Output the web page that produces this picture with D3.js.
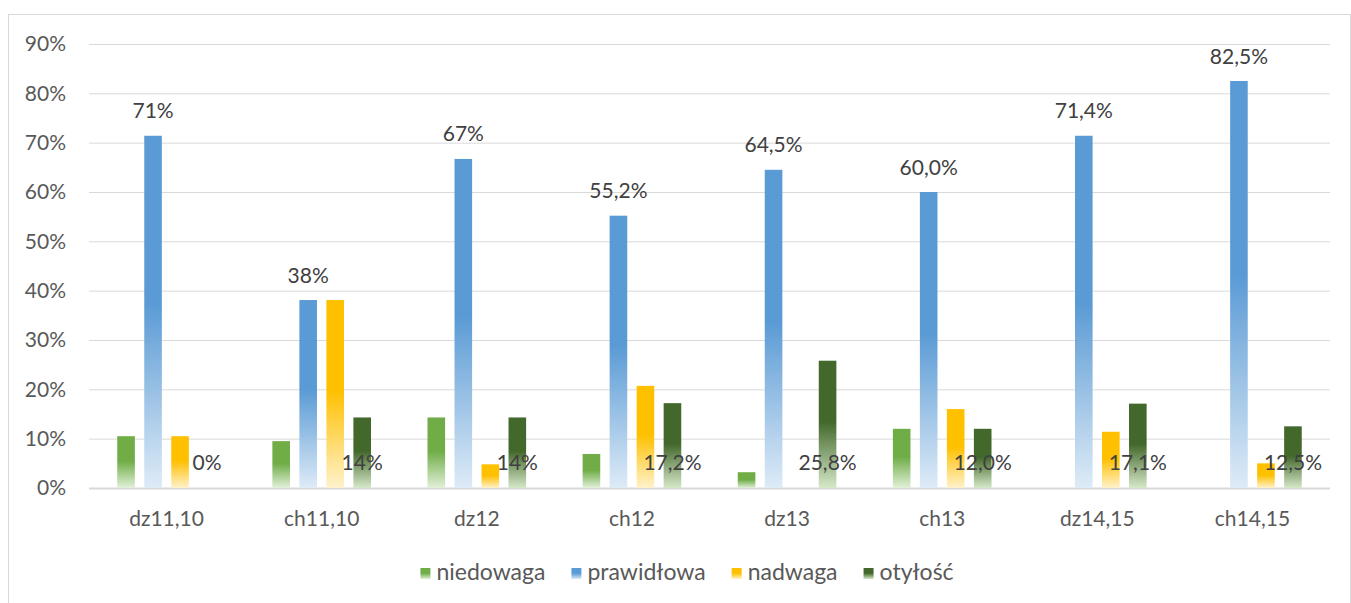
<!DOCTYPE html>
<html>
<head>
<meta charset="utf-8">
<script src="https://cdn.jsdelivr.net/npm/d3@7"></script>
<style>
  html, body { margin: 0; padding: 0; background: #fff; }
  svg { display: block; font-family: Lato, "Open Sans", sans-serif; }
</style>
</head>
<body>
<svg id="chart" width="1351" height="603"></svg>
<script>
// Groups along the x axis
const categories = ["dz11,10", "ch11,10", "dz12", "ch12", "dz13", "ch13", "dz14,15", "ch14,15"];

// Series names (legend order)
const seriesNames = ["niedowaga", "prawidłowa", "nadwaga", "otyłość"];

// Percent values per series, one per category
const niedowaga  = [10.5,  9.5, 14.3,  6.9,  3.2, 12.0,  0.0,  0.0];
const prawidlowa = [71.4, 38.1, 66.7, 55.2, 64.5, 60.0, 71.4, 82.5];
const nadwaga    = [10.5, 38.1,  4.8, 20.7,  0.0, 16.0, 11.4,  5.0];
const otylosc    = [ 0.0, 14.3, 14.3, 17.2, 25.8, 12.0, 17.1, 12.5];

// Decimal places used in the value labels of each category
const labelDecimals = [0, 0, 0, 1, 1, 1, 1, 1];

// Y axis ticks
const yTicks = [0, 10, 20, 30, 40, 50, 60, 70, 80, 90];

const seriesValues = [niedowaga, prawidlowa, nadwaga, otylosc];
const colors = ["#70ad47", "#5b9bd5", "#ffc000", "#43682b"];
const fadeColors = ["#e2f0d9", "#deebf7", "#fff2cc", "#d5e8c8"];

const svg = d3.select("#chart");
const W = 1351, H = 603;
const plot = { left: 89, right: 1330, top: 44, bottom: 488 };

const plPL = d3.formatLocale({ decimal: ",", thousands: " ", grouping: [3], currency: ["", " zł"] });
const fmt = [plPL.format(".0f"), plPL.format(".1f")];
const labelText = (v, i) => fmt[labelDecimals[i]](v) + "%";

// Outer chart frame
svg.append("rect")
  .attr("x", 8.5).attr("y", 14.5)
  .attr("width", W - 9).attr("height", H)
  .attr("fill", "#fff").attr("stroke", "#d9d9d9").attr("stroke-width", 1);

// Vertical fade gradients for each series
const defs = svg.append("defs");
colors.forEach((c, i) => {
  const g = defs.append("linearGradient")
    .attr("id", "grad" + i)
    .attr("x1", 0).attr("y1", 0).attr("x2", 0).attr("y2", 1);
  g.append("stop").attr("offset", "0%").attr("stop-color", c);
  g.append("stop").attr("offset", "48%").attr("stop-color", c);
  g.append("stop").attr("offset", "100%").attr("stop-color", fadeColors[i]);
});

const y = d3.scaleLinear().domain([0, 90]).range([plot.bottom, plot.top]);
const x0 = d3.scaleBand().domain(categories).range([plot.left, plot.right]).padding(0);
const groupPad = 28.25;
const x1 = d3.scaleBand().domain(seriesNames)
  .range([groupPad, x0.bandwidth() - groupPad])
  .paddingInner(0.348).paddingOuter(0);

// Horizontal gridlines
const yAxis = d3.axisLeft(y).tickValues(yTicks).tickFormat(d => d + "%").tickSize(-(plot.right - plot.left)).tickPadding(23);
const gy = svg.append("g").attr("transform", `translate(${plot.left},0)`).call(yAxis);
gy.select(".domain").remove();
gy.selectAll(".tick line")
  .attr("stroke", "#d9d9d9")
  .attr("stroke-width", d => d === 0 ? 2 : 1);
gy.selectAll(".tick text")
  .attr("fill", "#595959")
  .attr("font-size", 21)
  .attr("font-family", "Lato, sans-serif");

// X axis labels
const xAxis = d3.axisBottom(x0).tickSize(0).tickPadding(23);
const gx = svg.append("g").attr("transform", `translate(0,${plot.bottom})`).call(xAxis);
gx.select(".domain").remove();
gx.selectAll(".tick text")
  .attr("fill", "#595959")
  .attr("font-size", 21)
  .attr("font-family", "Lato, sans-serif");

// Bars
const groups = svg.append("g").selectAll("g")
  .data(categories)
  .join("g")
  .attr("transform", d => `translate(${x0(d)},0)`);

groups.selectAll("rect")
  .data((c, ci) => seriesNames.map((s, si) => ({ s, si, v: seriesValues[si][ci] })))
  .join("rect")
  .filter(d => d.v > 0)
  .attr("x", d => x1(d.s))
  .attr("width", x1.bandwidth())
  .attr("y", d => y(d.v))
  .attr("height", d => y(0) - y(d.v))
  .attr("fill", d => `url(#grad${d.si})`);

// Labels above the "prawidłowa" bars
svg.append("g").selectAll("text")
  .data(categories)
  .join("text")
  .attr("x", c => x0(c) + x1("prawidłowa") + x1.bandwidth() / 2)
  .attr("y", (c, i) => y(prawidlowa[i]) - 17.5)
  .attr("text-anchor", "middle")
  .attr("fill", "#404040")
  .attr("font-size", 21)
  .text((c, i) => labelText(prawidlowa[i], i));

// Labels at the base of the "otyłość" bars
svg.append("g").selectAll("text")
  .data(categories)
  .join("text")
  .attr("x", c => x0(c) + x1("otyłość") + x1.bandwidth() / 2)
  .attr("y", y(0) - 18)
  .attr("text-anchor", "middle")
  .attr("fill", "#404040")
  .attr("font-size", 21)
  .text((c, i) => labelText(otylosc[i], i));

// Legend
const legend = svg.append("g");
const items = legend.selectAll("g").data(seriesNames).join("g");
items.append("rect")
  .attr("width", 10).attr("height", 11)
  .attr("y", -10)
  .attr("fill", (d, i) => `url(#grad${i})`);
items.append("text")
  .attr("x", 16).attr("y", 0)
  .attr("dy", "0.1em")
  .attr("fill", "#595959")
  .attr("font-size", 23)
  .text(d => d);
let cx = 0;
items.each(function () {
  const t = d3.select(this).select("text").node().getComputedTextLength();
  d3.select(this).attr("transform", `translate(${cx},0)`);
  cx += 16 + t + 26;
});
const legendWidth = cx - 26;
legend.attr("transform", `translate(${687 - legendWidth / 2},578)`);
</script>
</body>
</html>
